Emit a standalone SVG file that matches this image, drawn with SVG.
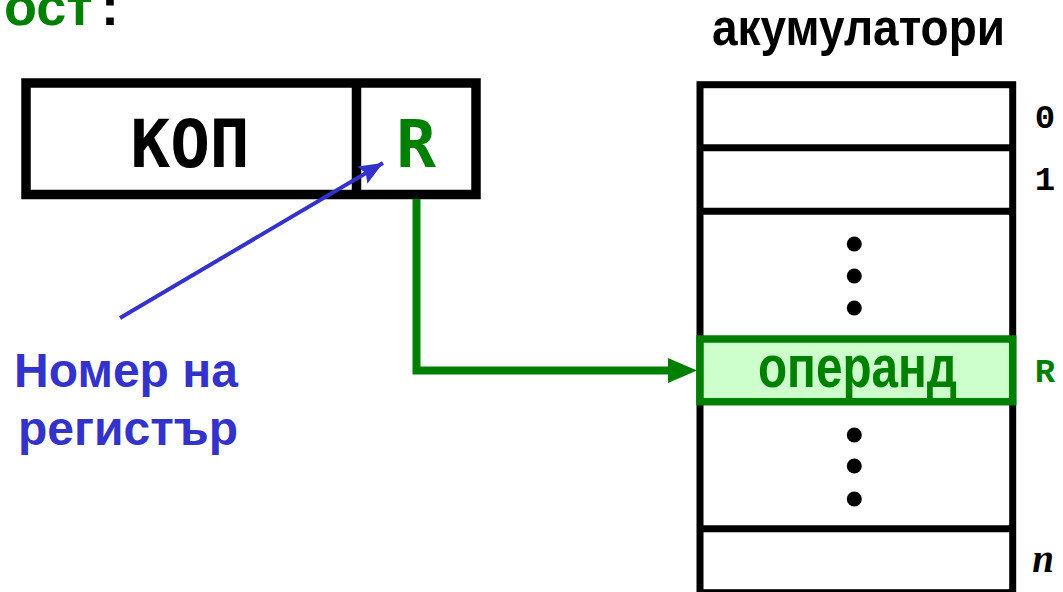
<svg xmlns="http://www.w3.org/2000/svg" width="1063" height="592" viewBox="0 0 1063 592">
  <style>
    .blk { fill: none; stroke: #000; }
    .lbl { font-family: "Liberation Mono", "DejaVu Sans Mono", monospace; font-weight: bold; font-size: 34px; text-anchor: middle; }
    .blue { fill: #3333cc; font-family: "Liberation Sans", Arial, sans-serif; font-weight: bold; font-size: 48px; text-anchor: middle; }
    .dot { fill: #000; }
  </style>
  <defs>
    <marker id="blueHead" markerUnits="userSpaceOnUse" markerWidth="30" markerHeight="24" refX="24" refY="10" orient="auto">
      <polygon points="0,0 24,10 0,20 4,10" fill="#3333cc"/>
    </marker>
  </defs>
  <rect width="1063" height="592" fill="#fff"/>

  <g id="title-left">
    <text x="4" y="25" font-family="Liberation Sans, Arial, sans-serif" font-weight="bold" font-size="54" fill="#008000">ост</text>
    <text x="101" y="25" font-family="Liberation Sans, Arial, sans-serif" font-weight="bold" font-size="54" fill="#000">:</text>
  </g>

  <g id="title-right">
    <text x="712" y="45" font-family="Liberation Sans, Arial, sans-serif" font-weight="bold" font-size="52" fill="#000" textLength="293" lengthAdjust="spacingAndGlyphs">акумулатори</text>
  </g>

  <g id="instruction">
    <rect x="26" y="83" width="450" height="111.5" class="blk" stroke-width="9.5"/>
    <line x1="356.5" y1="83" x2="356.5" y2="194.5" class="blk" stroke-width="9.5"/>
    <text x="190" y="166.5" font-family="DejaVu Sans Mono, monospace" font-weight="bold" font-size="66" text-anchor="middle" fill="#000">КОП</text>
    <text x="416" y="166.5" font-family="DejaVu Sans Mono, monospace" font-weight="bold" font-size="66" text-anchor="middle" fill="#008000">R</text>
  </g>

  <g id="register-label">
    <text x="126" y="387" class="blue">Номер на</text>
    <text x="128" y="445" class="blue">регистър</text>
  </g>

  <g id="accumulators">
    <rect x="700" y="84.7" width="312.7" height="508" class="blk" stroke-width="7"/>
    <line x1="700" y1="147.7" x2="1012.7" y2="147.7" class="blk" stroke-width="7"/>
    <line x1="700" y1="211.3" x2="1012.7" y2="211.3" class="blk" stroke-width="7"/>
    <line x1="700" y1="528.7" x2="1012.7" y2="528.7" class="blk" stroke-width="7"/>
    <circle cx="854.3" cy="244" r="7.5" class="dot"/>
    <circle cx="854.3" cy="276" r="7.5" class="dot"/>
    <circle cx="854.3" cy="308" r="7.5" class="dot"/>
    <circle cx="854.3" cy="435" r="7.5" class="dot"/>
    <circle cx="854.3" cy="466" r="7.5" class="dot"/>
    <circle cx="854.3" cy="499" r="7.5" class="dot"/>
  </g>

  <g id="operand">
    <rect x="700" y="339" width="312.7" height="62.7" fill="#ccffcc" stroke="#008000" stroke-width="7.5"/>
    <text x="758" y="386.5" font-family="Liberation Sans, Arial, sans-serif" font-weight="bold" font-size="60" fill="#008000" textLength="199" lengthAdjust="spacingAndGlyphs">операнд</text>
  </g>

  <g id="index-labels">
    <text x="1045" y="128.3" class="lbl" fill="#000">0</text>
    <text x="1045" y="190" class="lbl" fill="#000">1</text>
    <text x="1045" y="381.5" class="lbl" fill="#008000">R</text>
    <text x="1043" y="571.5" font-family="Liberation Serif, 'Times New Roman', serif" font-weight="bold" font-style="italic" font-size="39" text-anchor="middle" fill="#000">n</text>
  </g>

  <g id="connectors">
    <line x1="120" y1="318" x2="383" y2="163" stroke="#3333cc" stroke-width="4" marker-end="url(#blueHead)"/>
    <path d="M416.5,199 V370.5 H670" fill="none" stroke="#008000" stroke-width="8"/>
    <polygon points="668,358 697,370.5 668,383" fill="#008000"/>
  </g>
</svg>
